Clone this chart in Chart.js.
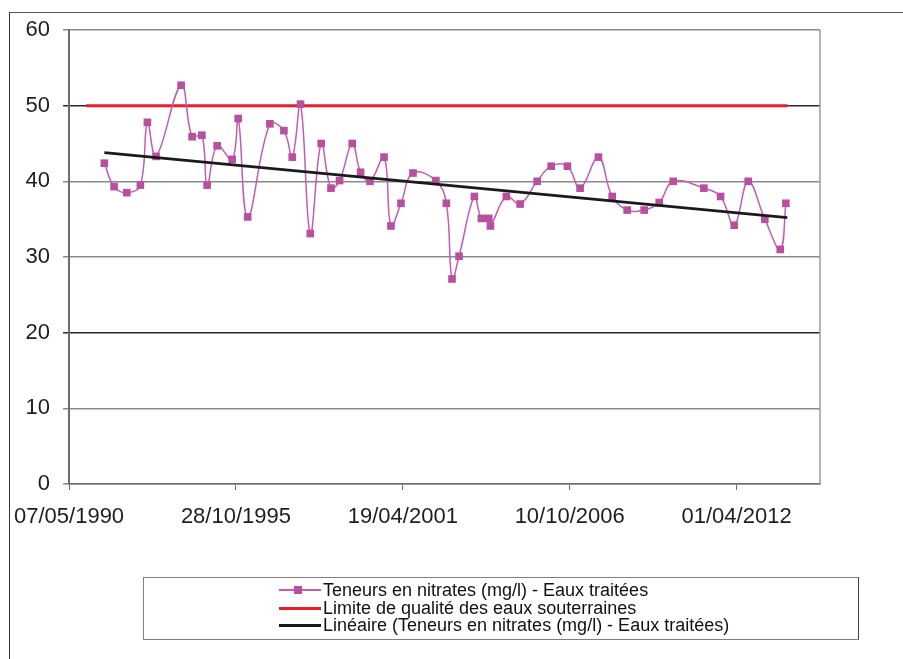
<!DOCTYPE html>
<html>
<head>
<meta charset="utf-8">
<script src="https://cdn.jsdelivr.net/npm/chart.js@4.4.1/dist/chart.umd.min.js"></script>
<style>
  html, body { margin: 0; padding: 0; background: #fff; }
  #wrap { position: relative; width: 903px; height: 659px; overflow: hidden; }
  #frame { position: absolute; left: 9px; top: 12px; width: 1000px; height: 1000px;
           border-left: 1.5px solid #333; border-top: 1.5px solid #555; }
  #chart { position: absolute; left: 0; top: 0; }
  #legend { position: absolute; left: 143px; top: 577px; width: 714px; height: 61px;
            border: 1.5px solid #808080; border-right-color: #444;
            font-family: "Liberation Sans", Arial, sans-serif; font-size: 18px; color: #111; }
  .row { position: absolute; left: 0; height: 18px; line-height: 18px; white-space: nowrap; }
  .sample { position: absolute; left: 135px; top: 8px; width: 42px; height: 2px; }
  .mark { position: absolute; left: 150px; top: 5px; width: 8px; height: 8px; }
  .txt { position: absolute; left: 179px; top: 0; }
</style>
</head>
<body>
<div id="wrap">
  <div id="frame"></div>
  <canvas id="chart" width="903" height="659"></canvas>
  <div id="legend"></div>
</div>
<script>
// Dates are Excel day serials (day 0 = 30/12/1899)
const nitrateDates = [33423, 33540, 33692, 33855, 33939, 34043, 34343, 34475, 34592, 34655,
  34775, 34955, 35027, 35141, 35407, 35575, 35675, 35774, 35891, 36022,
  36139, 36242, 36394, 36494, 36607, 36775, 36858, 36978, 37122, 37396,
  37522, 37590, 37674, 37858, 37942, 38030, 38050, 38241, 38406, 38610,
  38778, 38973, 39125, 39345, 39509, 39689, 39893, 40073, 40241, 40608,
  40808, 40972, 41140, 41339, 41524, 41591];
const nitrateValues = [42.4, 39.3, 38.5, 39.5, 47.8, 43.3, 52.7, 45.9, 46.1, 39.5,
  44.7, 42.9, 48.3, 35.3, 47.6, 46.7, 43.2, 50.2, 33.1, 45.0,
  39.1, 40.1, 45.0, 41.2, 40.0, 43.2, 34.1, 37.1, 41.1, 40.1,
  37.1, 27.1, 30.1, 38.0, 35.1, 35.1, 34.1, 38.0, 37.0, 40.0,
  42.0, 42.0, 39.1, 43.2, 38.0, 36.2, 36.2, 37.2, 40.0, 39.1,
  38.0, 34.2, 40.0, 35.0, 31.0, 37.1];
const limitDates = [33204, 41609];
const limitValues = [50, 50];
const trendDates = [33423, 41608];
const trendValues = [43.8, 35.2];
const xTickValues = [33000, 35000, 37000, 39000, 41000];
const yTickValues = [0, 10, 20, 30, 40, 50, 60];
const seriesLabels = [
  "Teneurs en nitrates (mg/l) - Eaux traitées",
  "Limite de qualité des eaux souterraines",
  "Linéaire (Teneurs en nitrates (mg/l) - Eaux traitées)"
];

function pairs(xs, ys) { return xs.map((x, i) => ({ x: x, y: ys[i] })); }
function serialToDate(s) {
  const d = new Date(Date.UTC(1899, 11, 30) + s * 86400000);
  const p = n => String(n).padStart(2, "0");
  return p(d.getUTCDate()) + "/" + p(d.getUTCMonth() + 1) + "/" + d.getUTCFullYear();
}

const MAG = "#B8509F";
const MAGLINE = "#C35CB2";
const RED = "#EE1D25";

const frameRight = {
  id: "frameRight",
  beforeDatasetsDraw(chart) {
    const a = chart.chartArea, c = chart.ctx;
    c.save();
    c.strokeStyle = "#9a9a9a";
    c.lineWidth = 1.5;
    c.beginPath();
    c.moveTo(a.right, a.top);
    c.lineTo(a.right, a.bottom);
    c.stroke();
    c.restore();
  }
};

const font = { family: "'Liberation Sans', Arial, sans-serif", size: 22 };

const chart = new Chart(document.getElementById("chart"), {
  type: "line",
  data: {
    datasets: [
      { label: seriesLabels[0], data: pairs(nitrateDates, nitrateValues),
        borderColor: MAGLINE, borderWidth: 1.5, backgroundColor: MAG,
        pointStyle: "rect", pointRadius: 5.4, pointBorderColor: MAG, pointBackgroundColor: MAG,
        pointBorderWidth: 0, tension: 0.4, order: 2, legendKind: "marker" },
      { label: seriesLabels[1], data: pairs(limitDates, limitValues),
        borderColor: RED, borderWidth: 3, pointRadius: 0, tension: 0, order: 3, legendKind: "line" },
      { label: seriesLabels[2], data: pairs(trendDates, trendValues),
        borderColor: "#1a1a1a", borderWidth: 2.8, pointRadius: 0, tension: 0, order: 1, legendKind: "line" }
    ]
  },
  options: {
    responsive: false,
    animation: false,
    layout: { padding: { left: 0, top: 30, right: 83, bottom: 0 } },
    plugins: { legend: { display: false }, tooltip: { enabled: false } },
    scales: {
      x: {
        type: "linear", min: 33000, max: 42000,
        afterBuildTicks: s => { s.ticks = xTickValues.map(v => ({ value: v })); },
        afterFit: s => { s.height = 175; },
        border: { color: "#6e6e6e", width: 1.5 },
        grid: { drawOnChartArea: false, drawTicks: true, tickLength: 6, color: "#6e6e6e", lineWidth: 1 },
        ticks: { font: font, color: "#1e1e1e", padding: 14, maxRotation: 0, autoSkip: false,
                 callback: v => serialToDate(v) }
      },
      y: {
        min: 0, max: 60,
        afterBuildTicks: s => { s.ticks = yTickValues.map(v => ({ value: v })); },
        afterFit: s => { s.width = 69; },
        border: { color: "#6e6e6e", width: 2 },
        grid: { tickLength: 6, lineWidth: 1.5,
                color: c => (c.tick && (c.tick.value === 50 || c.tick.value === 20)) ? "#2b2b2b" : "#8a8a8a" },
        ticks: { font: font, color: "#1e1e1e", padding: 13 }
      }
    }
  },
  plugins: [frameRight]
});

// HTML legend built from the chart's datasets
const leg = document.getElementById("legend");
chart.data.datasets.forEach((ds, i) => {
  const row = document.createElement("div");
  row.className = "row";
  row.style.top = (3 + i * 17.5) + "px";
  row.style.width = "100%";
  const s = document.createElement("div");
  s.className = "sample";
  s.style.background = ds.borderColor;
  s.style.height = ds.legendKind === "marker" ? "2px" : "3px";
  row.appendChild(s);
  if (ds.legendKind === "marker") {
    const m = document.createElement("div");
    m.className = "mark";
    m.style.background = MAG;
    row.appendChild(m);
  }
  const t = document.createElement("div");
  t.className = "txt";
  t.textContent = ds.label;
  row.appendChild(t);
  leg.appendChild(row);
});
</script>
</body>
</html>
